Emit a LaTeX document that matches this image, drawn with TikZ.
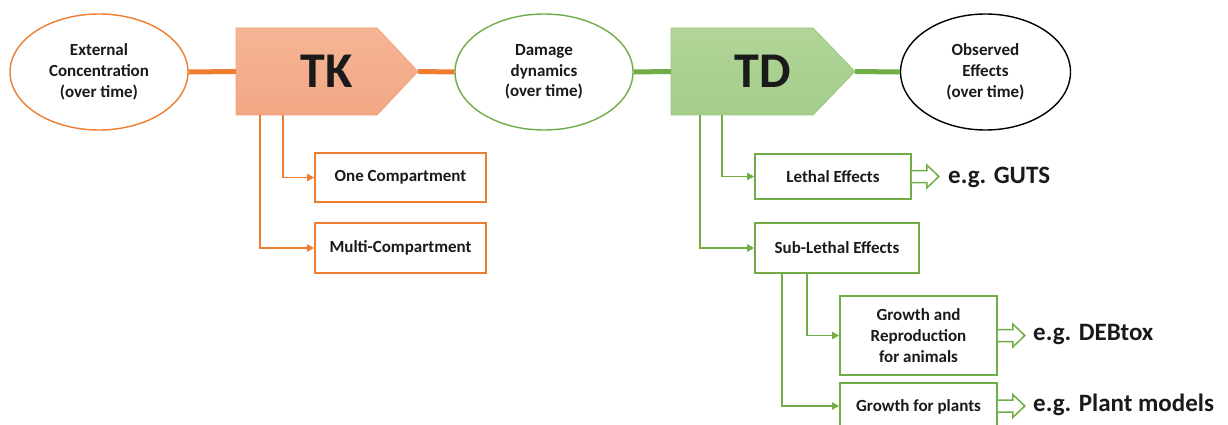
\documentclass[tikz,border=0pt]{standalone}
\usepackage{fontspec}
\setmainfont{Carlito}
\usetikzlibrary{shapes.geometric,arrows.meta}
\definecolor{tkor}{HTML}{ED7D31}
\definecolor{tdgr}{HTML}{70AD47}
\definecolor{tkfillA}{HTML}{F5B595}
\definecolor{tkfillB}{HTML}{F3A784}
\definecolor{tdfillA}{HTML}{B1D598}
\definecolor{tdfillB}{HTML}{A5CD8A}
\definecolor{txt}{HTML}{1A1A1A}
\tikzset{
  x=1pt,y=-1pt,
  every node/.style={font=\bfseries, text=txt},
  oval/.style={ellipse, draw, line width=1.4pt, fill=white, minimum width=#1, minimum height=116pt, inner sep=0pt, align=center, font=\fontsize{17}{20.7}\selectfont\bfseries},
  oval/.default=178pt,
  bigtxt/.style={minimum width=182pt, minimum height=87pt, inner sep=0pt, font=\fontsize{50}{50}\selectfont\bfseries},
  sbox/.style={draw, line width=1.6pt, fill=white, inner sep=0pt, align=center, font=\fontsize{17}{21}\selectfont\bfseries},
  thickline/.style={line width=5pt},
  branch/.style={line width=1.8pt, -{Triangle[length=7pt,width=7pt]}},
  eg/.style={anchor=west, inner sep=0pt, font=\fontsize{25}{25}\selectfont\bfseries},
  hollow/.style={line width=1.5pt, fill=white, line join=miter},
}
\begin{document}
\begin{tikzpicture}
\useasboundingbox (0,0) rectangle (1228,425);
\clip (0,0) rectangle (1228,425);
% ellipses
\node[oval, draw=tkor] (ext) at (99,72) {External\\Concentration\\(over time)};
\node[oval, draw=tdgr] (dam) at (544,72) {Damage\\dynamics\\(over time)};
\node[oval=170pt, draw=black] (obs) at (985.5,72) {Observed\\Effects\\(over time)};
% pentagons
\path[draw=tkfillB!85!tkor, line width=0.8pt, top color=tkfillA, bottom color=tkfillB]
  (236,28) -- (377,28) -- (418,71.5) -- (377,115) -- (236,115) -- cycle;
\node[bigtxt] (tk) at (327,71.5) {TK};
\path[draw=tdfillB!85!tdgr, line width=0.8pt, top color=tdfillA, bottom color=tdfillB]
  (671,28) -- (813,28) -- (855,71.5) -- (813,115) -- (671,115) -- cycle;
\node[bigtxt, minimum width=184pt] (td) at (763,71.5) {TD};
% main connectors
\draw[tkor, thickline] (ext.east) -- (tk.west);
\draw[tkor, thickline] (tk.east) -- (dam.west);
\draw[tdgr, thickline] (dam.east) -- (td.west);
\draw[tdgr, thickline] (td.east) -- (obs.west);
% TK boxes
\node[sbox, draw=tkor, minimum width=171pt, minimum height=49pt] (one) at (400.5,177.5) {One Compartment};
\node[sbox, draw=tkor, minimum width=171pt, minimum height=50pt] (multi) at (400.5,248) {Multi-Compartment};
\draw[tkor, branch] ([xshift=47pt]tk.south west) |- (one.west);
\draw[tkor, branch] ([xshift=24pt]tk.south west) |- (multi.west);
% TD boxes
\node[sbox, draw=tdgr, minimum width=156pt, minimum height=45pt] (leth) at (833,176.5) {Lethal Effects};
\node[sbox, draw=tdgr, minimum width=164pt, minimum height=50pt] (sub) at (837,248) {Sub-Lethal Effects};
\draw[tdgr, branch] ([xshift=51pt]td.south west) |- (leth.west);
\draw[tdgr, branch] ([xshift=29pt]td.south west) |- (sub.west);
\node[sbox, draw=tdgr, minimum width=157pt, minimum height=79pt] (grow) at (918.5,335.5) {Growth and\\Reproduction\\for animals};
\node[sbox, draw=tdgr, minimum width=157pt, minimum height=46pt, text depth=0pt] (plant) at (918.5,406) {Growth for plants};
\draw[tdgr, branch] ([xshift=53pt]sub.south west) |- (grow.west);
\draw[tdgr, branch] ([xshift=28pt]sub.south west) |- (plant.west);
% hollow arrows and examples
\foreach \b in {leth,grow,plant}{
  \draw[tdgr, hollow] ([yshift=6pt]\b.east) -- ++(15,0) -- ++(0,-5.5) -- ++(12,11.5) -- ++(-12,11.5) -- ++(0,-5.5) -- ([yshift=-6pt]\b.east);
}
\node[eg] (eg1) at (948,177) {e.g. GUTS};
\node[eg] (eg2) at (1033,335) {e.g. DEBtox};
\node[eg] (eg3) at (1033,405) {e.g. Plant models};
\end{tikzpicture}
\end{document}
